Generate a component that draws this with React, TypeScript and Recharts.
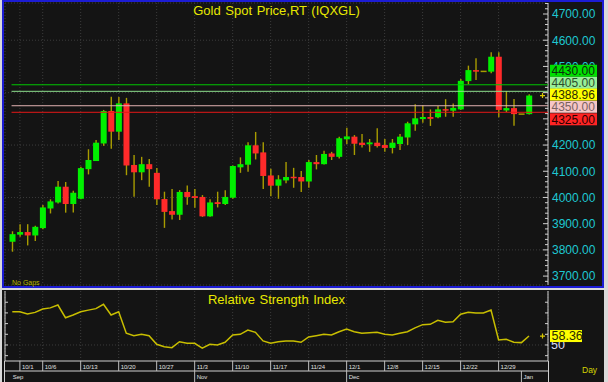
import React from "react";
import {
  ComposedChart,
  Bar,
  Line,
  XAxis,
  YAxis,
  CartesianGrid,
  ReferenceLine,
} from "recharts";

const DATES = [
  "9/30", "10/1", "10/2", "10/3", "10/6", "10/7", "10/8", "10/9", "10/10",
  "10/13", "10/14", "10/15", "10/16", "10/17", "10/20", "10/21", "10/22", "10/23", "10/24",
  "10/27", "10/28", "10/29", "10/30", "10/31", "11/3", "11/4", "11/5", "11/6", "11/7",
  "11/10", "11/11", "11/12", "11/13", "11/14", "11/17", "11/18", "11/19", "11/20", "11/21",
  "11/24", "11/25", "11/26", "11/27", "11/28", "12/1", "12/2", "12/3", "12/4", "12/5",
  "12/8", "12/9", "12/10", "12/11", "12/12", "12/15", "12/16", "12/17", "12/18", "12/19",
  "12/22", "12/23", "12/24", "12/25", "12/26", "12/29", "12/30", "12/31", "1/1", "1/2",
];

const OPEN = [
  3831, 3858, 3868, 3855, 3883, 3958, 3981, 4041, 3975,
  3995, 4108, 4139, 4206, 4330, 4251, 4359, 4124, 4096, 4127,
  4094, 3994, 3948, 3934, 4021, 4005, 4002, 3928, 3982, 3975,
  3999, 4115, 4125, 4199, 4172, 4084, 4045, 4065, 4079, 4078,
  4061, 4135, 4127, 4168, 4155, 4222, 4232, 4209, 4203, 4209,
  4200, 4189, 4204, 4229, 4279, 4299, 4307, 4306, 4337, 4331,
  4336, 4444, 4486, 4481, 4480, 4537, 4332, 4341, 4318, 4318,
];
const HIGH = [
  3871, 3898, 3898, 3892, 3971, 3993, 4063, 4059, 4026,
  4117, 4184, 4219, 4334, 4384, 4383, 4380, 4162, 4155, 4147,
  4112, 4022, 4032, 4028, 4046, 4032, 4009, 3993, 4022, 4028,
  4122, 4153, 4211, 4250, 4211, 4110, 4085, 4135, 4113, 4101,
  4143, 4162, 4178, 4174, 4232, 4266, 4238, 4242, 4223, 4264,
  4223, 4223, 4242, 4289, 4356, 4352, 4336, 4349, 4375, 4359,
  4452, 4503, 4531, 4481, 4554, 4554, 4406, 4376, 4318, 4394,
];
const LOW = [
  3793, 3850, 3817, 3834, 3879, 3939, 3977, 3942, 3943,
  3993, 4088, 4139, 4197, 4186, 4219, 4085, 4003, 4066, 4041,
  3971, 3884, 3916, 3914, 3972, 3961, 3926, 3926, 3962, 3971,
  3995, 4094, 4098, 4145, 4032, 4005, 3995, 4054, 4037, 4021,
  4037, 4107, 4126, 4143, 4149, 4204, 4162, 4191, 4174, 4191,
  4174, 4168, 4181, 4200, 4255, 4285, 4273, 4302, 4308, 4308,
  4334, 4432, 4448, 4481, 4474, 4306, 4326, 4274, 4318, 4317,
];
const CLOSE = [
  3860, 3868, 3855, 3888, 3962, 3985, 4041, 3975, 4018,
  4112, 4143, 4209, 4330, 4251, 4359, 4122, 4096, 4127, 4108,
  3993, 3945, 3934, 4021, 4002, 3998, 3928, 3981, 3975, 4002,
  4120, 4127, 4199, 4168, 4082, 4045, 4069, 4078, 4074, 4061,
  4135, 4127, 4166, 4155, 4226, 4233, 4205, 4200, 4210, 4196,
  4189, 4209, 4232, 4283, 4302, 4307, 4300, 4336, 4332, 4342,
  4445, 4486, 4480, 4481, 4537, 4334, 4341, 4318, 4318, 4388.96,
];

const RSI = [
  81, 81, 79, 80.5, 83.6, 84.7, 87.4, 75.5, 78,
  81, 82.6, 84, 88, 78, 81, 61, 58.7, 60, 58.7,
  50.6, 48.4, 47.5, 53, 51.6, 51.6, 47, 50.6, 50, 52.5,
  59.3, 60, 64, 61.8, 53.8, 51.6, 53, 53.8, 53.8, 52.5,
  57.5, 58.7, 60, 59.3, 62.4, 65, 62.4, 61, 61.5, 61.9,
  60, 59.3, 61, 62.4, 66, 69, 69.3, 73, 71.2, 71.8,
  78.7, 80.5, 79.9, 80, 82.7, 54.7, 55.3, 52.5, 52.2, 58.36,
];

const WEEK_LABELS = [
  "10/1", "10/6", "10/13", "10/20", "10/27", "11/3", "11/10",
  "11/17", "11/24", "12/1", "12/8", "12/15", "12/22", "12/29",
];
const MONTH_LABELS = ["Sep", "Nov", "Dec", "Jan"];
const MONTH_STARTS = ["9/30", "11/3", "12/1", "1/1"];

const PRICE_TICKS = [3700, 3800, 3900, 4000, 4100, 4200, 4300, 4400, 4500, 4600, 4700];
const GRID_PRICES = [3800, 4000, 4200, 4400, 4600];
const RSI_TICKS = [40, 50, 60, 70, 80, 90];

const LEVELS = [4430, 4405, 4350, 4325];
const LAST_PRICE = 4388.96;
const LAST_RSI = 58.36;

const LEVEL_LINE = ["#00c800", "#8ee08e", "#e2b2b2", "#e41818"];
const LEVEL_TAG = ["#00e000", "#98ee98", "#f6c6c6", "#ff2424"];
const LEVEL_TEXT = ["#0c2c0c", "#2c4c2c", "#7a6262", "#2c0000"];
const TAG_SHIFT = [-14, -8.5, 1, 7];

const BG = "#141414";
const BORDER = "#1c1cd4";
const AXIS_LINE = "#d0d0d0";
const GRID = "#3c3c3c";
const CYAN = "#1ec8d2";
const YELLOW = "#e8e800";
const WICK = "#a89c00";
const UP = "#00f000";
const DOWN = "#ff2a2a";
const RSI_LINE = "#c8be00";

const X_DOMAIN: [number, number] = [-0.96, 70.5];
const PRICE_DOMAIN: [number, number] = [3666, 4742];
const RSI_DOMAIN: [number, number] = [35, 100.5];

const minorPriceTicks: number[] = [];
for (let v = 3680; v <= 4740; v += 20) minorPriceTicks.push(v);

const weekTicks = WEEK_LABELS.map((d) => DATES.indexOf(d));
const monthTicks = MONTH_STARTS.map((d) => DATES.indexOf(d));

const candles = DATES.map((date, i) => ({
  i,
  date,
  open: OPEN[i],
  high: HIGH[i],
  low: LOW[i],
  close: CLOSE[i],
  range: [LOW[i], HIGH[i]],
}));
const rsiData = DATES.map((date, i) => ({ i, date, rsi: RSI[i] }));

const MAIN_MARGIN = { top: 3, right: 0, bottom: 3, left: 0 };
const RSI_MARGIN = { top: 3, right: 0, bottom: 0, left: 0 };

function Candle(props: any) {
  const { x, y, width, height, payload } = props;
  const { open, close, high, low } = payload;
  const top = Math.min(y, y + height);
  const h = Math.abs(height);
  const cx = x + width / 2;
  if (high === low) {
    return <line x1={x} x2={x + width} y1={top} y2={top} stroke={WICK} strokeWidth={1.5} />;
  }
  const k = h / (high - low);
  const yO = top + (high - open) * k;
  const yC = top + (high - close) * k;
  const bodyTop = Math.min(yO, yC);
  const bodyH = Math.max(Math.abs(yC - yO), 1.5);
  return (
    <g>
      <line x1={cx} x2={cx} y1={top} y2={top + h} stroke={WICK} strokeWidth={1.4} />
      <rect x={x} y={bodyTop} width={width} height={bodyH} fill={close >= open ? UP : DOWN} />
    </g>
  );
}

const PriceTick = (props: any) => {
  const { x, y, payload } = props;
  const v = payload.value;
  const major = PRICE_TICKS.includes(v);
  return (
    <g>
      <line x1={x - (major ? 5 : 3)} x2={x} y1={y} y2={y} stroke={AXIS_LINE} />
      {major && (
        <text x={x + 4} y={y + 4.4} fill={CYAN} fontSize={12}>
          {v.toFixed(2)}
        </text>
      )}
    </g>
  );
};

const LeftPriceTick = (props: any) => {
  const { x, y, payload } = props;
  const major = PRICE_TICKS.includes(payload.value);
  return <line x1={x} x2={x + (major ? 4 : 2.5)} y1={y} y2={y} stroke={AXIS_LINE} />;
};

const RsiTick = (props: any) => {
  const { x, y, payload } = props;
  return (
    <g>
      <line x1={x - 3} x2={x} y1={y} y2={y} stroke={AXIS_LINE} />
      {payload.value === 50 && (
        <text x={x + 3} y={y + 4.5} fill="#dcdcf4" fontSize={12.5}>
          50
        </text>
      )}
    </g>
  );
};

const LeftRsiTick = (props: any) => {
  const { x, y } = props;
  return <line x1={x} x2={x + 3} y1={y} y2={y} stroke={AXIS_LINE} />;
};

const DateTick = (props: any) => {
  const { x, y, payload } = props;
  return (
    <g>
      <line x1={x} x2={x} y1={y} y2={y + 10} stroke="#bdbdbd" />
      <text x={x + 2} y={y + 7.5} fontSize={6} fill="#e0e0e0">
        {DATES[payload.value]}
      </text>
    </g>
  );
};

const MonthTick = (props: any) => {
  const { x, y, payload, index } = props;
  return (
    <g>
      {index > 0 && <line x1={x} x2={x} y1={y} y2={y + 11} stroke="#bdbdbd" />}
      <text x={x + (index > 0 ? 2 : 0.5)} y={y + 7.5} fontSize={6} fill="#e0e0e0">
        {MONTH_LABELS[MONTH_STARTS.indexOf(DATES[payload.value])]}
      </text>
    </g>
  );
};

function PriceTag(p: any) {
  const { viewBox, text, bg, fg, shift, marker, w, fs } = p;
  const end = viewBox.x + viewBox.width;
  const left = end + 2;
  const cy = viewBox.y + shift;
  return (
    <g>
      {marker && (
        <path
          d={`M${end - 8},${viewBox.y}h5M${end - 5.5},${viewBox.y - 2.5}v5`}
          stroke="#d8c800"
          strokeWidth={1.2}
        />
      )}
      <rect x={left} y={cy - 6} width={w} height={12} fill={bg} />
      <text x={left + 1.5} y={cy + 4.3} fontSize={fs} fill={fg}>
        {text}
      </text>
    </g>
  );
}

// transparent chart over the main one, so lines and tags sit above candles and axis labels
function PriceLevels() {
  return (
    <ComposedChart width={603} height={288} data={candles} margin={MAIN_MARGIN}>
      <XAxis dataKey="i" type="number" domain={X_DOMAIN} hide allowDataOverflow />
      <YAxis yAxisId="left" orientation="left" width={5} type="number" domain={PRICE_DOMAIN} tick={false} tickLine={false} axisLine={false} allowDataOverflow />
      <YAxis yAxisId="price" orientation="right" width={55} type="number" domain={PRICE_DOMAIN} tick={false} tickLine={false} axisLine={false} allowDataOverflow />
      {LEVELS.map((lv, k) => (
        <ReferenceLine
          key={lv}
          yAxisId="price"
          segment={[
            { x: -0.1, y: lv },
            { x: X_DOMAIN[1], y: lv },
          ]}
          stroke={LEVEL_LINE[k]}
          strokeWidth={1}
          label={(p: any) => (
            <PriceTag {...p} text={lv.toFixed(2)} bg={LEVEL_TAG[k]} fg={LEVEL_TEXT[k]} shift={TAG_SHIFT[k]} w={47} fs={12} />
          )}
        />
      ))}
      <ReferenceLine
        yAxisId="price"
        y={LAST_PRICE}
        stroke="none"
        label={(p: any) => (
          <PriceTag {...p} text={LAST_PRICE.toFixed(2)} bg="#ffff00" fg="#2a2a00" shift={-1} marker w={47} fs={12} />
        )}
      />
    </ComposedChart>
  );
}

function RsiLevel() {
  return (
    <ComposedChart width={603} height={94} data={rsiData} margin={RSI_MARGIN}>
      <XAxis dataKey="i" type="number" domain={X_DOMAIN} height={21} tick={false} tickLine={false} axisLine={false} allowDataOverflow />
      <YAxis yAxisId="left" orientation="left" width={5} type="number" domain={RSI_DOMAIN} tick={false} tickLine={false} axisLine={false} allowDataOverflow />
      <YAxis orientation="right" width={55} type="number" domain={RSI_DOMAIN} tick={false} tickLine={false} axisLine={false} allowDataOverflow />
      <ReferenceLine
        y={LAST_RSI}
        stroke="none"
        label={(p: any) => (
          <PriceTag {...p} text={LAST_RSI.toFixed(2)} bg="#ffff00" fg="#2a2a00" shift={0} marker w={32} fs={12.5} />
        )}
      />
    </ComposedChart>
  );
}

export default function App() {
  return (
    <div
      style={{
        position: "absolute",
        left: 0,
        top: 0,
        width: 608,
        height: 382,
        background: "#d9d9d9",
        fontFamily: "Arial, 'Liberation Sans', sans-serif",
        overflow: "hidden",
      }}
    >
      <div
        style={{
          position: "absolute",
          left: 2,
          top: 0,
          width: 602,
          height: 288,
          boxSizing: "border-box",
          border: `2px solid ${BORDER}`,
          background: BG,
        }}
      />
      <div style={{ position: "absolute", left: 2, top: 290, width: 602, height: 92, background: BG }} />

      <div style={{ position: "absolute", left: 0, top: 0 }}>
        <ComposedChart width={603} height={288} data={candles} margin={MAIN_MARGIN}>
          <CartesianGrid stroke={GRID} strokeDasharray="1 2" />
          <XAxis dataKey="i" type="number" domain={X_DOMAIN} ticks={weekTicks} hide allowDataOverflow />
          <YAxis type="number" domain={PRICE_DOMAIN} ticks={GRID_PRICES} hide allowDataOverflow />
          <YAxis
            yAxisId="left"
            orientation="left"
            width={5}
            type="number"
            domain={PRICE_DOMAIN}
            ticks={minorPriceTicks}
            interval={0}
            tickSize={0}
            tickMargin={0}
            tick={<LeftPriceTick />}
            axisLine={{ stroke: AXIS_LINE }}
            allowDataOverflow
          />
          <YAxis
            yAxisId="price"
            orientation="right"
            width={55}
            type="number"
            domain={PRICE_DOMAIN}
            ticks={minorPriceTicks}
            interval={0}
            tickSize={0}
            tickMargin={0}
            tick={<PriceTick />}
            axisLine={{ stroke: AXIS_LINE }}
            allowDataOverflow
          />
          <Bar yAxisId="price" dataKey="range" barSize={6} shape={Candle} isAnimationActive={false} />
        </ComposedChart>
      </div>
      <div style={{ position: "absolute", left: 0, top: 0 }}>
        <PriceLevels />
      </div>

      <div style={{ position: "absolute", left: 0, top: 288 }}>
        <ComposedChart width={603} height={94} data={rsiData} margin={RSI_MARGIN}>
          <CartesianGrid horizontal={false} stroke={GRID} strokeDasharray="1 2" />
          <XAxis
            dataKey="i"
            type="number"
            domain={X_DOMAIN}
            ticks={weekTicks}
            interval={0}
            height={10}
            tickSize={0}
            tickMargin={0}
            tick={<DateTick />}
            axisLine={{ stroke: AXIS_LINE }}
            allowDataOverflow
          />
          <XAxis
            xAxisId="month"
            dataKey="i"
            type="number"
            domain={X_DOMAIN}
            ticks={monthTicks}
            interval={0}
            height={11}
            tickSize={0}
            tickMargin={0}
            tick={<MonthTick />}
            axisLine={{ stroke: AXIS_LINE }}
            allowDataOverflow
          />
          <YAxis
            yAxisId="left"
            orientation="left"
            width={5}
            type="number"
            domain={RSI_DOMAIN}
            ticks={RSI_TICKS}
            interval={0}
            tickSize={0}
            tickMargin={0}
            tick={<LeftRsiTick />}
            axisLine={{ stroke: AXIS_LINE }}
            allowDataOverflow
          />
          <YAxis
            orientation="right"
            width={55}
            type="number"
            domain={RSI_DOMAIN}
            ticks={RSI_TICKS}
            interval={0}
            tickSize={0}
            tickMargin={0}
            tick={<RsiTick />}
            axisLine={{ stroke: AXIS_LINE }}
            allowDataOverflow
          />
          <ReferenceLine y={50} stroke={GRID} strokeDasharray="1 2" />
          <Line dataKey="rsi" stroke={RSI_LINE} strokeWidth={1.5} dot={false} isAnimationActive={false} />
        </ComposedChart>
      </div>
      <div style={{ position: "absolute", left: 0, top: 288 }}>
        <RsiLevel />
      </div>

      <div style={{ position: "absolute", left: 548, top: 361, width: 1, height: 21, background: AXIS_LINE }} />
      <div style={{ position: "absolute", left: 4, top: 361, width: 1, height: 21, background: AXIS_LINE }} />

      <div
        style={{
          position: "absolute",
          left: 5,
          top: 3,
          width: 543,
          textAlign: "center",
          color: YELLOW,
          fontSize: 13,
          lineHeight: "15px",
          wordSpacing: 1,
        }}
      >
        Gold Spot Price,RT (IQXGL)
      </div>
      <div
        style={{
          position: "absolute",
          left: 5,
          top: 292,
          width: 543,
          textAlign: "center",
          color: YELLOW,
          fontSize: 13,
          lineHeight: "15px",
          wordSpacing: 1,
        }}
      >
        Relative Strength Index
      </div>
      <div style={{ position: "absolute", left: 12, top: 279, color: "#b4b400", fontSize: 7, lineHeight: "8px" }}>
        No Gaps
      </div>
      <div style={{ position: "absolute", left: 582, top: 366, color: "#d4d400", fontSize: 8.5, lineHeight: "9px" }}>
        Day
      </div>
    </div>
  );
}
